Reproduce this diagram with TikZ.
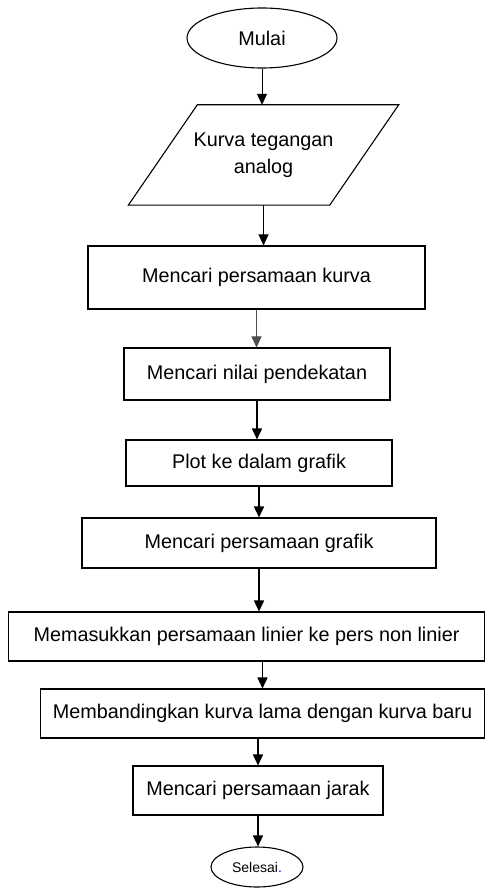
\documentclass[tikz,border=0pt]{standalone}
\usepackage{fontspec}
\setmainfont{Liberation Sans}
\usepackage{xcolor}
\usetikzlibrary{arrows.meta, positioning, shapes.geometric}

\begin{document}
\begin{tikzpicture}[x=1pt, y=-1pt,
  font=\fontsize{19.8}{27}\selectfont,
  proc/.style={rectangle, draw=black, line width=1.1pt, inner sep=0pt, align=center},
  term/.style={ellipse, draw=black, line width=1.1pt, inner sep=0pt},
  io/.style={rectangle, inner sep=0pt, align=center},
  flow/.style={-{Triangle[width=10pt, length=11pt]}, line width=0.9pt},
  flowb/.style={-{Triangle[width=10pt, length=11pt]}, line width=1.7pt}
]
  \useasboundingbox (0,0) rectangle (486,890);

  % Start
  \node[term, minimum width=150pt, minimum height=60pt] (mulai) at (262,38) {Mulai};

  % Input (parallelogram, slant 34.5 each side)
  \node[io, minimum width=201pt, minimum height=100pt] (kurva) at (263.5,155)
    {Kurva tegangan\\analog};
  \draw[line width=1.1pt, line join=miter]
    ([xshift=-34.5pt]kurva.south west) -- ([xshift=34.5pt]kurva.north west)
    -- ([xshift=34.5pt]kurva.north east) -- ([xshift=-34.5pt]kurva.south east) -- cycle;

  % Process steps
  \node[proc, minimum width=337pt, minimum height=63pt] (carikurva) at (256.5,277.5)
    {Mencari persamaan kurva};
  \node[proc, minimum width=266pt, minimum height=52pt] (nilai) at (257,374)
    {Mencari nilai pendekatan};
  \node[proc, minimum width=266pt, minimum height=46pt] (plot) at (259,463)
    {Plot ke dalam grafik};
  \node[proc, minimum width=354pt, minimum height=50pt] (carigrafik) at (259,543)
    {Mencari persamaan grafik};
  \node[proc, minimum width=476pt, minimum height=49pt] (masuk) at (246.5,636.5)
    {Memasukkan persamaan linier ke pers non linier};
  \node[proc, minimum width=444pt, minimum height=49pt] (banding) at (262.5,713.5)
    {Membandingkan kurva lama dengan kurva baru};
  \node[proc, minimum width=250pt, minimum height=49pt] (jarak) at (258,790.5)
    {Mencari persamaan jarak};

  % End
  \node[term, minimum width=92pt, minimum height=40pt, font=\fontsize{14}{17}\selectfont]
    (selesai) at (257,867) {Selesai{\color{blue}.}};

  % Connectors
  \draw[flow] (mulai.south) -- (mulai.south |- kurva.north);
  \draw[flow] (kurva.south) -- (kurva.south |- carikurva.north);
  \draw[flow, black!70] (carikurva.south) -- (carikurva.south |- nilai.north);
  \draw[flowb] (nilai.south) -- (nilai.south |- plot.north);
  \draw[flowb] (plot.south) -- (plot.south |- carigrafik.north);
  \draw[flowb] (carigrafik.south) -- (carigrafik.south |- masuk.north);
  \draw[flowb] (banding.north |- masuk.south) -- (banding.north);
  \draw[flowb] (banding.south -| jarak.north) -- (jarak.north);
  \draw[flowb] (jarak.south) -- (jarak.south |- selesai.north);
\end{tikzpicture}
\end{document}
